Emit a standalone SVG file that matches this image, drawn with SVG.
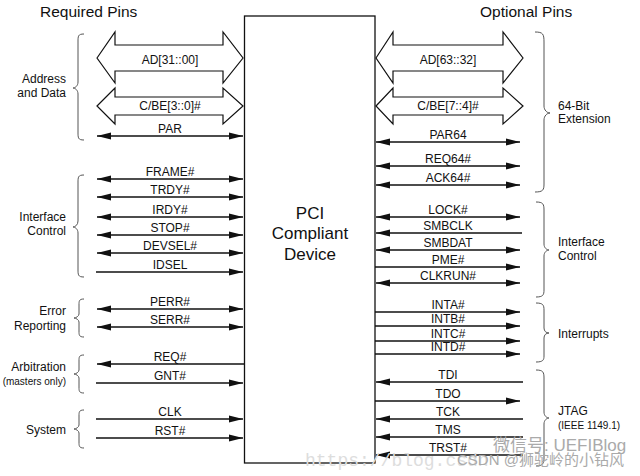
<svg xmlns="http://www.w3.org/2000/svg" width="640" height="476" viewBox="0 0 640 476">
<style>
text{font-family:"Liberation Sans",Arial,sans-serif;fill:#111}
.hdr{font-size:15.5px}
.lbl{font-size:12px;text-anchor:middle}
.grp{font-size:12px}
.sm{font-size:10px}
.ctr{font-size:17px;text-anchor:middle}
.sig{stroke:#111;stroke-width:1.3;fill:none}
.bus{fill:#fff;stroke:#111;stroke-width:1.2;stroke-linejoin:miter}
.brace{fill:none;stroke:#555;stroke-width:1}
.wm{fill:#aaa;font-family:"Liberation Sans","Noto Sans CJK SC",sans-serif}
.url{fill:#ddd;font-family:"Liberation Mono",monospace;font-size:18px}
</style>
<defs>
<marker id="ah" viewBox="0 0 14 8" refX="14" refY="4" markerWidth="14" markerHeight="8" markerUnits="userSpaceOnUse" orient="auto-start-reverse">
<path d="M0,0.4 L14,4 L0,7.6 z" fill="#111"/>
</marker>
</defs>
<rect width="640" height="476" fill="#fff"/>

<text class="hdr" x="40" y="17">Required Pins</text>
<text class="hdr" x="480" y="17">Optional Pins</text>

<g id="device">
<rect x="244.5" y="16" width="130.5" height="447" fill="#fff" stroke="#111" stroke-width="1.3"/>
<text class="ctr" x="310" y="219">PCI</text>
<text class="ctr" x="310" y="239">Compliant</text>
<text class="ctr" x="310" y="260">Device</text>
</g>

<g id="connectors">
<polygon class="bus" points="97,58 115,32 115,45 223,45 223,32 243,58 223,83 223,71 115,71 115,83"/>
<polygon class="bus" points="97,106 115,88 115,97 223,97 223,88 243,106 223,124 223,115 115,115 115,124"/>
<polygon class="bus" points="376,58 393,32 393,45 503,45 503,32 523,58 503,83 503,71 393,71 393,83"/>
<polygon class="bus" points="376,106 393,88 393,97 503,97 503,88 523,106 503,124 503,115 393,115 393,124"/>
<g marker-end="url(#ah)">
<line class="sig" x1="97" y1="136" x2="243" y2="136" marker-start="url(#ah)"/>
<line class="sig" x1="97" y1="179" x2="243" y2="179" marker-start="url(#ah)"/>
<line class="sig" x1="97" y1="197" x2="243" y2="197" marker-start="url(#ah)"/>
<line class="sig" x1="97" y1="217" x2="243" y2="217" marker-start="url(#ah)"/>
<line class="sig" x1="97" y1="235" x2="243" y2="235" marker-start="url(#ah)"/>
<line class="sig" x1="97" y1="253" x2="243" y2="253" marker-start="url(#ah)"/>
<line class="sig" x1="96" y1="272" x2="243" y2="272"/>
<line class="sig" x1="97" y1="309" x2="243" y2="309" marker-start="url(#ah)"/>
<line class="sig" x1="97" y1="327" x2="243" y2="327" marker-start="url(#ah)"/>
<line class="sig" x1="244" y1="364" x2="97" y2="364"/>
<line class="sig" x1="96" y1="383" x2="243" y2="383"/>
<line class="sig" x1="96" y1="419" x2="243" y2="419"/>
<line class="sig" x1="96" y1="438" x2="243" y2="438"/>

<line class="sig" x1="376" y1="142" x2="520" y2="142" marker-start="url(#ah)"/>
<line class="sig" x1="376" y1="166" x2="520" y2="166" marker-start="url(#ah)"/>
<line class="sig" x1="376" y1="185" x2="520" y2="185" marker-start="url(#ah)"/>
<line class="sig" x1="376" y1="217" x2="520" y2="217" marker-start="url(#ah)"/>
<line class="sig" x1="522" y1="233" x2="376" y2="233"/>
<line class="sig" x1="376" y1="250" x2="520" y2="250" marker-start="url(#ah)"/>
<line class="sig" x1="375" y1="267" x2="520" y2="267"/>
<line class="sig" x1="376" y1="283" x2="520" y2="283" marker-start="url(#ah)"/>
<line class="sig" x1="375" y1="312" x2="520" y2="312"/>
<line class="sig" x1="375" y1="326" x2="520" y2="326"/>
<line class="sig" x1="375" y1="341" x2="520" y2="341"/>
<line class="sig" x1="375" y1="354" x2="520" y2="354"/>
<line class="sig" x1="523" y1="382" x2="376" y2="382"/>
<line class="sig" x1="375" y1="401" x2="520" y2="401"/>
<line class="sig" x1="523" y1="419" x2="376" y2="419"/>
<line class="sig" x1="523" y1="437" x2="376" y2="437"/>
<line class="sig" x1="523" y1="455" x2="376" y2="455"/>
</g>
</g>

<g id="left-labels">
<text class="lbl" x="170" y="64">AD[31::00]</text>
<text class="lbl" x="170" y="110">C/BE[3::0]#</text>
<text class="lbl" x="170" y="133">PAR</text>
<text class="lbl" x="170" y="176">FRAME#</text>
<text class="lbl" x="170" y="194">TRDY#</text>
<text class="lbl" x="170" y="214">IRDY#</text>
<text class="lbl" x="170" y="232">STOP#</text>
<text class="lbl" x="170" y="250">DEVSEL#</text>
<text class="lbl" x="170" y="269">IDSEL</text>
<text class="lbl" x="170" y="306">PERR#</text>
<text class="lbl" x="170" y="324">SERR#</text>
<text class="lbl" x="170" y="361">REQ#</text>
<text class="lbl" x="170" y="380">GNT#</text>
<text class="lbl" x="170" y="416">CLK</text>
<text class="lbl" x="170" y="435">RST#</text>
</g>

<g id="right-labels">
<text class="lbl" x="448" y="64">AD[63::32]</text>
<text class="lbl" x="448" y="110">C/BE[7::4]#</text>
<text class="lbl" x="448" y="139">PAR64</text>
<text class="lbl" x="448" y="163">REQ64#</text>
<text class="lbl" x="448" y="182">ACK64#</text>
<text class="lbl" x="448" y="214">LOCK#</text>
<text class="lbl" x="448" y="230">SMBCLK</text>
<text class="lbl" x="448" y="247">SMBDAT</text>
<text class="lbl" x="448" y="264">PME#</text>
<text class="lbl" x="448" y="280">CLKRUN#</text>
<text class="lbl" x="448" y="309">INTA#</text>
<text class="lbl" x="448" y="323">INTB#</text>
<text class="lbl" x="448" y="338">INTC#</text>
<text class="lbl" x="448" y="351">INTD#</text>
<text class="lbl" x="448" y="379">TDI</text>
<text class="lbl" x="448" y="398">TDO</text>
<text class="lbl" x="448" y="416">TCK</text>
<text class="lbl" x="448" y="434">TMS</text>
<text class="lbl" x="448" y="452">TRST#</text>
</g>

<g id="group-address">
<path class="brace" d="M84,34 C78,34 78,36 78,42 L78,82 C78,86 75,88 73,88 C75,88 78,90 78,94 L78,132 C78,138 78,140 84,140"/>
<text class="grp" x="66" y="83" text-anchor="end">Address</text>
<text class="grp" x="66" y="97" text-anchor="end">and Data</text>
</g>
<g id="group-interface-req">
<path class="brace" d="M84,175 C78,175 78,177 78,183 L78,221 C78,225 75,227 73,227 C75,227 78,229 78,233 L78,269 C78,275 78,277 84,277"/>
<text class="grp" x="66" y="221" text-anchor="end">Interface</text>
<text class="grp" x="66" y="235" text-anchor="end">Control</text>
</g>
<g id="group-error">
<path class="brace" d="M84,299 C79,299 79,301 79,305 L79,314 C79,316 76,318 74,318 C76,318 79,320 79,322 L79,331 C79,335 79,337 84,337"/>
<text class="grp" x="66" y="315" text-anchor="end">Error</text>
<text class="grp" x="66" y="330" text-anchor="end">Reporting</text>
</g>
<g id="group-arbitration">
<path class="brace" d="M84,355 C79,355 79,357 79,361 L79,370 C79,372 76,374 74,374 C76,374 79,376 79,378 L79,387 C79,391 79,393 84,393"/>
<text class="grp" x="66" y="371" text-anchor="end">Arbitration</text>
<text class="sm" x="66" y="385" text-anchor="end">(masters only)</text>
</g>
<g id="group-system">
<path class="brace" d="M84,410 C79,410 79,412 79,416 L79,425 C79,427 76,429 74,429 C76,429 79,431 79,433 L79,442 C79,446 79,448 84,448"/>
<text class="grp" x="66" y="434" text-anchor="end">System</text>
</g>

<g id="group-64bit">
<path class="brace" d="M535,32 C543,32 544,34 544,42 L544,106 C544,110 547,113 550,113 C547,113 544,116 544,120 L544,184 C544,190 543,192 535,192"/>
<text class="grp" x="558" y="110">64-Bit</text>
<text class="grp" x="558" y="123">Extension</text>
</g>
<g id="group-interface-opt">
<path class="brace" d="M536,202 C543,202 544,204 544,210 L544,244 C544,248 547,250 549,250 C547,250 544,252 544,256 L544,290 C544,295 543,297 536,297"/>
<text class="grp" x="558" y="246">Interface</text>
<text class="grp" x="558" y="260">Control</text>
</g>
<g id="group-interrupts">
<path class="brace" d="M536,303 C543,303 544,305 544,310 L544,328 C544,331 546,333 549,333 C546,333 544,335 544,338 L544,356 C544,360 543,362 536,362"/>
<text class="grp" x="558" y="338">Interrupts</text>
</g>
<g id="group-jtag">
<path class="brace" d="M536,370 C543,370 544,372 544,378 L544,412 C544,416 547,418 549,418 C547,418 544,420 544,424 L544,458 C544,463 543,466 536,466"/>
<text class="grp" x="558" y="415">JTAG</text>
<text class="sm" x="558" y="429">(IEEE 1149.1)</text>
</g>

<g id="watermarks">
<text class="url" x="305" y="466">https://blog.csdn</text>
<text class="wm" x="493" y="451" font-size="17">微信号: UEFIBlog</text>
<text class="wm" x="457" y="465" font-size="15">CSDN @狮驼岭的小钻风</text>
</g>
</svg>
